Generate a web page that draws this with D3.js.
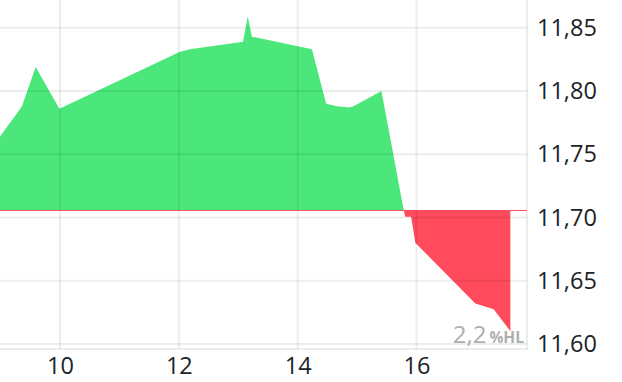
<!DOCTYPE html>
<html>
<head>
<meta charset="utf-8">
<script src="https://cdn.jsdelivr.net/npm/d3@7"></script>
<style>
  body { margin: 0; background: #fff; }
  text { font-family: "Open Sans", "Noto Sans", sans-serif; }
</style>
</head>
<body>
<div id="main"></div>
<script>

// intraday prices, time in decimal hours
var times  = [8.99, 9.24, 9.36, 9.59, 9.99, 12.02, 12.19, 13.08, 13.16, 13.23,
              14.24, 14.48, 14.66, 14.86, 14.94, 15.41, 15.785, 15.81, 15.91,
              15.98, 16.99, 17.30, 17.58];
var prices = [11.764, 11.780, 11.788, 11.819, 11.786, 11.831, 11.833, 11.839, 11.859, 11.843,
              11.833, 11.790, 11.788, 11.787, 11.788, 11.800, 11.706, 11.7005, 11.7005,
              11.680, 11.632, 11.6275, 11.610];
var prevClose = 11.706;

var yTicks = [11.60, 11.65, 11.70, 11.75, 11.80, 11.85];
var xTicks = [10, 12, 14, 16];
var changeLabel = "2,2";
var changeUnit = "%HL";

var w = 622;
var h = 382;
var plotW = 527;
var plotH = 349;

window.onload = function () {

  var data = times.map(function (t, i) { return { t: t, v: prices[i] }; });

  var x = d3.scaleLinear().domain([8.99, 17.86]).range([0, plotW]);
  var y = d3.scaleLinear().domain([11.596, 11.872]).range([plotH, 0]);

  var svg = d3.select("#main").append("svg")
      .attr("width", w)
      .attr("height", h);

  var defs = svg.append("defs");
  defs.append("clipPath").attr("id", "above")
    .append("rect")
      .attr("x", 0).attr("y", 0)
      .attr("width", plotW).attr("height", y(prevClose));
  defs.append("clipPath").attr("id", "below")
    .append("rect")
      .attr("x", 0).attr("y", y(prevClose))
      .attr("width", plotW).attr("height", plotH - y(prevClose));

  var area = d3.area()
      .x(function (d) { return x(d.t); })
      .y0(y(prevClose))
      .y1(function (d) { return y(d.v); });

  svg.append("path")
      .datum(data)
      .attr("clip-path", "url(#above)")
      .attr("fill", "#4be77b")
      .attr("d", area);

  svg.append("path")
      .datum(data)
      .attr("clip-path", "url(#below)")
      .attr("fill", "#ff4b5c")
      .attr("d", area);

  // grid on top, semi transparent so it darkens the fill a bit
  var grid = svg.append("g").attr("stroke", "rgba(0,0,0,0.07)").attr("stroke-width", 2);

  grid.selectAll(".hg")
      .data(yTicks)
      .enter()
      .append("line")
      .attr("x1", 0).attr("x2", plotW)
      .attr("y1", function (d) { return y(d); })
      .attr("y2", function (d) { return y(d); });

  grid.selectAll(".vg")
      .data(xTicks)
      .enter()
      .append("line")
      .attr("y1", 0).attr("y2", plotH)
      .attr("x1", function (d) { return x(d); })
      .attr("x2", function (d) { return x(d); });

  // frame: bottom and right
  grid.append("line").attr("x1", 0).attr("x2", plotW + 1).attr("y1", plotH).attr("y2", plotH);
  grid.append("line").attr("x1", plotW).attr("x2", plotW).attr("y1", 0).attr("y2", plotH);

  // previous close line
  svg.append("line")
      .attr("x1", 0).attr("x2", plotW)
      .attr("y1", Math.round(y(prevClose)) + 0.5)
      .attr("y2", Math.round(y(prevClose)) + 0.5)
      .attr("stroke", "#f4505e")
      .attr("stroke-width", 1);

  // axes
  var fmt = d3.format(".2f");
  var yAxis = d3.axisRight(y)
      .tickValues(yTicks)
      .tickSize(0)
      .tickPadding(10)
      .tickFormat(function (d) { return fmt(d).replace(".", ","); });

  var ya = svg.append("g")
      .attr("transform", "translate(" + plotW + ",0)")
      .call(yAxis);
  ya.select(".domain").remove();
  ya.selectAll("text")
      .attr("font-size", 23.5)
      .attr("fill", "#1b2327")
      .style("font-family", "'Open Sans', sans-serif");

  var xAxis = d3.axisBottom(x)
      .tickValues(xTicks)
      .tickSize(0)
      .tickPadding(8);

  var xa = svg.append("g")
      .attr("transform", "translate(0," + plotH + ")")
      .call(xAxis);
  xa.select(".domain").remove();
  xa.selectAll("text")
      .attr("font-size", 23.5)
      .attr("fill", "#1b2327")
      .style("font-family", "'Open Sans', sans-serif");

  // change label
  var lbl = svg.append("text")
      .attr("x", plotW - 3)
      .attr("y", 343)
      .attr("text-anchor", "end")
      .attr("fill", "#afafaf");
  lbl.append("tspan").attr("font-size", 24).text(changeLabel);
  lbl.append("tspan").attr("font-size", 15.5).attr("font-weight", "bold").attr("dx", 3).text(changeUnit);
};
</script>
</body>
</html>
